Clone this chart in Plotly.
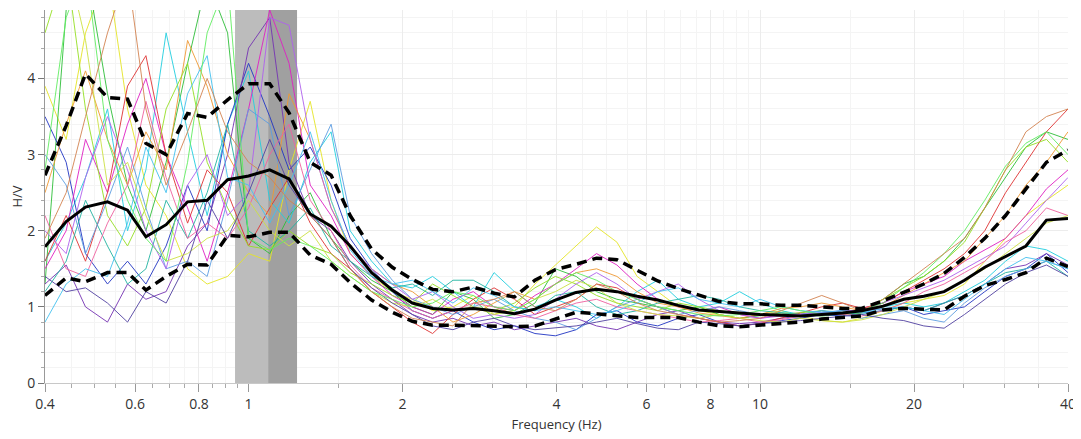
import plotly.graph_objects as go

# frequency samples (Hz)
freq_hz = [0.4, 0.44, 0.48, 0.53, 0.58, 0.63, 0.69, 0.76, 0.83, 0.91, 1.0,
           1.1, 1.2, 1.32, 1.45, 1.58, 1.74, 1.91, 2.09, 2.29, 2.51, 2.75,
           3.02, 3.31, 3.63, 3.98, 4.37, 4.79, 5.25, 5.75, 6.31, 6.92, 7.59,
           8.32, 9.12, 10.0, 11.0, 12.0, 13.2, 14.5, 15.8, 17.4, 19.1, 20.9,
           22.9, 25.1, 27.5, 30.2, 33.1, 36.3, 40.0]

# average H/V and +/- one standard deviation
hv_mean = [1.79, 2.12, 2.31, 2.38, 2.27, 1.92, 2.08, 2.38, 2.40, 2.67, 2.72,
           2.80, 2.68, 2.22, 2.06, 1.80, 1.45, 1.22, 1.05, 0.98, 0.96, 0.98,
           0.95, 0.91, 0.97, 1.09, 1.19, 1.23, 1.20, 1.14, 1.09, 1.02, 0.96,
           0.94, 0.92, 0.90, 0.89, 0.88, 0.90, 0.92, 0.95, 1.01, 1.10, 1.14,
           1.20, 1.35, 1.52, 1.66, 1.80, 2.14, 2.16]
hv_upper = [2.73, 3.38, 4.06, 3.75, 3.73, 3.15, 3.00, 3.54, 3.49, 3.72, 3.93,
            3.93, 3.55, 2.90, 2.73, 2.20, 1.76, 1.52, 1.36, 1.23, 1.20, 1.26,
            1.18, 1.13, 1.35, 1.49, 1.56, 1.64, 1.62, 1.48, 1.34, 1.24, 1.16,
            1.07, 1.04, 1.04, 1.02, 1.02, 1.00, 0.98, 0.98, 1.08, 1.19, 1.30,
            1.44, 1.65, 1.90, 2.20, 2.55, 2.90, 3.06]
hv_lower = [1.15, 1.38, 1.33, 1.45, 1.45, 1.22, 1.40, 1.56, 1.55, 1.94, 1.92,
            1.98, 1.98, 1.68, 1.56, 1.32, 1.09, 0.93, 0.81, 0.76, 0.76, 0.75,
            0.74, 0.74, 0.75, 0.84, 0.93, 0.91, 0.89, 0.86, 0.86, 0.86, 0.80,
            0.75, 0.74, 0.76, 0.78, 0.80, 0.84, 0.86, 0.88, 0.96, 0.98, 0.97,
            0.96, 1.14, 1.28, 1.36, 1.45, 1.64, 1.53]

# individual windows
win_yellow = [3.9, 3.2, 4.6, 5.4, 3.6, 2.6, 2.2, 1.5, 1.3, 1.4, 1.7, 1.6, 2.8, 3.7, 2.4, 1.7, 1.4, 1.2, 1.1, 0.95, 1.0, 1.15, 0.9, 1.0, 1.3, 1.55, 1.8, 2.05, 1.85, 1.4, 1.2, 1.0, 0.95, 0.9, 0.85, 0.9, 0.95, 0.88, 0.82, 0.8, 0.85, 0.95, 1.05, 1.1, 1.15, 1.3, 1.6, 1.9, 2.2, 2.4, 2.6]
win_green = [1.3, 4.9, 5.5, 3.8, 2.6, 2.0, 2.9, 4.2, 5.3, 4.6, 1.9, 1.7, 2.2, 2.5, 1.9, 1.6, 1.35, 1.2, 1.0, 0.9, 1.2, 1.1, 0.85, 0.9, 1.05, 1.5, 1.4, 1.2, 1.1, 1.05, 1.0, 0.95, 1.0, 0.9, 0.85, 0.88, 0.92, 0.9, 0.88, 0.9, 0.95, 1.1, 1.3, 1.4, 1.6, 1.9, 2.3, 2.7, 3.1, 3.3, 3.2]
win_cyan = [1.6, 2.1, 2.7, 3.6, 2.0, 2.8, 4.6, 3.3, 2.2, 3.4, 4.1, 2.4, 2.1, 2.9, 3.3, 2.0, 1.6, 1.3, 1.25, 1.4, 1.2, 1.0, 1.45, 1.2, 1.0, 1.1, 1.0, 0.85, 1.0, 1.2, 1.35, 1.1, 1.0, 1.05, 1.2, 1.05, 0.95, 0.9, 0.92, 0.95, 0.93, 1.0, 1.05, 1.0, 1.05, 1.2, 1.35, 1.6, 1.8, 1.75, 1.6]
win_blue = [3.5, 2.9, 1.7, 1.3, 1.6, 1.3, 1.8, 2.6, 2.0, 3.4, 4.2, 3.5, 2.8, 3.1, 2.6, 1.9, 1.5, 1.2, 0.95, 0.85, 0.95, 0.8, 0.7, 0.75, 0.65, 0.62, 0.7, 0.9, 0.95, 0.8, 0.75, 0.85, 0.9, 0.8, 0.75, 0.78, 0.82, 0.85, 0.9, 0.88, 0.92, 0.95, 1.0, 0.9, 0.95, 1.0, 1.2, 1.4, 1.5, 1.7, 1.45]
win_purple = [1.3, 1.55, 1.0, 0.8, 1.3, 1.1, 1.2, 1.8, 2.1, 3.0, 4.4, 4.8, 2.9, 2.2, 2.0, 1.6, 1.3, 1.1, 0.9, 0.8, 0.85, 0.75, 0.8, 0.7, 0.75, 0.8, 0.85, 0.75, 0.7, 0.8, 0.9, 0.95, 0.85, 0.8, 0.78, 0.8, 0.85, 0.88, 0.9, 0.92, 0.95, 0.98, 1.0, 0.95, 1.05, 1.15, 1.3, 1.5, 1.55, 1.7, 1.55]
win_magenta = [1.5, 2.0, 3.2, 2.5, 3.4, 4.0, 3.0, 2.3, 1.6, 2.5, 3.6, 4.9, 4.2, 2.6, 2.2, 1.7, 1.4, 1.15, 1.0, 0.9, 1.1, 1.2, 1.0, 0.95, 1.15, 1.3, 1.5, 1.7, 1.55, 1.3, 1.1, 1.0, 0.95, 1.0, 0.9, 0.85, 0.9, 0.92, 0.9, 0.92, 0.98, 1.05, 1.2, 1.3, 1.4, 1.6, 1.75, 1.9, 2.2, 2.55, 2.8]
win_red = [1.6, 2.2, 1.6, 2.5, 3.9, 4.3, 3.0, 2.1, 2.8, 2.5, 1.8, 2.3, 2.7, 2.1, 1.7, 1.5, 1.2, 1.0, 0.8, 0.65, 0.9, 1.1, 1.25, 1.1, 0.9, 1.0, 1.1, 1.3, 1.25, 1.1, 1.0, 0.9, 0.85, 0.8, 0.75, 0.78, 0.85, 0.92, 1.0, 1.05, 0.98, 1.05, 1.2, 1.35, 1.5, 1.7, 2.0, 2.5, 2.9, 3.3, 3.6]
win_orange = [2.5, 3.4, 4.1, 3.2, 2.6, 3.3, 2.8, 4.5, 3.9, 3.0, 2.5, 2.2, 3.8, 3.2, 2.3, 1.8, 1.5, 1.3, 1.2, 1.0, 0.8, 0.9, 1.05, 1.2, 1.1, 1.3, 1.45, 1.5, 1.4, 1.2, 1.05, 1.0, 0.92, 0.88, 0.85, 0.9, 0.98, 1.0, 1.05, 1.0, 0.95, 1.0, 1.15, 1.3, 1.45, 1.6, 1.9, 2.2, 2.6, 2.9, 3.3]
win_lime = [4.6, 5.5, 3.6, 2.2, 1.8, 2.3, 3.6, 4.2, 2.9, 2.3, 1.8, 1.75, 2.0, 1.8, 1.7, 1.45, 1.3, 1.15, 1.05, 1.3, 1.15, 1.0, 0.95, 1.05, 1.25, 1.4, 1.3, 1.15, 1.05, 1.0, 0.95, 1.05, 1.0, 0.95, 0.92, 0.9, 0.9, 0.92, 0.95, 0.9, 0.92, 1.1, 1.25, 1.4, 1.6, 1.85, 2.3, 2.8, 3.1, 3.2, 2.9]
win_teal = [1.2, 1.6, 2.4, 1.8, 1.3, 1.5, 2.4, 1.9, 2.5, 3.4, 2.0, 1.8, 2.0, 2.3, 1.8, 1.6, 1.4, 1.25, 1.3, 1.15, 1.35, 1.35, 1.2, 1.0, 0.95, 1.15, 1.2, 1.0, 0.9, 0.95, 1.05, 1.1, 1.15, 1.1, 1.0, 0.95, 0.92, 0.9, 0.95, 0.93, 0.9, 0.95, 1.0, 0.95, 1.05, 1.15, 1.3, 1.45, 1.5, 1.6, 1.4]
win_lightblue = [3.0, 2.6, 1.7, 2.4, 3.1, 2.3, 1.5, 1.6, 1.4, 2.4, 3.6, 3.4, 2.2, 2.8, 3.4, 2.2, 1.7, 1.35, 1.1, 1.0, 0.9, 1.0, 1.1, 0.95, 0.85, 0.8, 0.7, 0.85, 1.0, 1.1, 1.0, 0.9, 0.95, 1.0, 0.95, 0.9, 0.88, 0.9, 0.95, 0.9, 0.85, 0.9, 0.95, 0.85, 0.8, 1.05, 1.25, 1.4, 1.5, 1.6, 1.5]
win_violet = [2.0, 1.7, 2.7, 3.5, 2.8, 2.0, 1.5, 2.6, 3.0, 2.2, 2.5, 4.8, 4.7, 3.2, 2.3, 1.8, 1.5, 1.3, 1.1, 1.2, 1.0, 0.85, 0.9, 0.85, 0.9, 1.1, 1.3, 1.45, 1.3, 1.1, 1.2, 1.3, 1.1, 0.95, 0.9, 0.85, 0.88, 0.9, 0.92, 0.95, 0.95, 1.05, 1.15, 1.25, 1.35, 1.5, 1.65, 1.8, 2.1, 2.4, 2.7]
win_pink = [2.2, 1.5, 1.4, 2.1, 2.6, 3.7, 2.7, 1.9, 2.1, 1.9, 2.3, 3.0, 3.4, 2.4, 2.0, 1.55, 1.25, 1.1, 0.95, 0.85, 0.95, 1.05, 1.0, 0.9, 0.85, 0.95, 1.05, 1.1, 1.0, 0.95, 0.9, 0.85, 0.8, 0.82, 0.85, 0.8, 0.83, 0.88, 0.9, 0.9, 0.88, 0.95, 1.05, 1.2, 1.3, 1.45, 1.6, 1.85, 2.0, 2.3, 2.2]
win_sky = [0.8, 1.3, 1.5, 1.4, 2.1, 3.1, 2.5, 3.8, 4.3, 2.7, 2.6, 2.1, 2.6, 3.3, 2.4, 1.75, 1.4, 1.3, 1.35, 1.2, 1.05, 1.25, 1.15, 1.0, 0.95, 1.0, 0.95, 0.9, 0.95, 1.05, 1.2, 1.25, 1.1, 1.05, 1.0, 1.1, 1.0, 0.95, 0.93, 0.95, 0.92, 0.98, 1.0, 0.95, 0.9, 1.1, 1.3, 1.5, 1.65, 1.6, 1.5]
win_yellowgreen = [4.9, 5.6, 4.5, 2.6, 2.9, 2.2, 1.6, 1.7, 1.9, 2.0, 2.4, 2.0, 1.8, 2.0, 1.6, 1.4, 1.2, 1.05, 1.0, 1.1, 0.95, 1.0, 0.9, 0.95, 1.1, 1.2, 1.35, 1.25, 1.05, 0.95, 0.9, 0.88, 0.85, 0.9, 0.85, 0.82, 0.8, 0.85, 0.82, 0.8, 0.83, 0.9, 1.0, 1.1, 1.2, 1.35, 1.5, 1.7, 1.9, 2.1, 2.2]
win_indigo = [1.4, 1.2, 1.25, 1.05, 0.8, 1.2, 1.05, 1.6, 2.4, 1.9, 2.5, 3.2, 2.6, 2.2, 1.9, 1.5, 1.25, 1.05, 0.9, 0.75, 0.7, 0.8, 0.85, 0.75, 0.7, 0.72, 0.75, 0.8, 0.85, 0.78, 0.72, 0.7, 0.8, 0.78, 0.75, 0.78, 0.8, 0.82, 0.85, 0.88, 0.9, 0.85, 0.82, 0.75, 0.72, 0.9, 1.1, 1.3, 1.45, 1.55, 1.4]
win_lightgreen = [2.8, 4.8, 5.5, 3.2, 2.4, 1.9, 1.6, 2.9, 4.6, 5.3, 1.9, 1.75, 1.9, 1.8, 1.6, 1.4, 1.2, 1.1, 1.0, 1.05, 1.2, 1.15, 1.0, 0.95, 1.1, 1.3, 1.45, 1.35, 1.2, 1.1, 1.0, 0.95, 0.9, 0.88, 0.9, 0.95, 1.0, 0.95, 0.9, 0.92, 0.95, 1.05, 1.25, 1.45, 1.7, 2.0, 2.4, 2.85, 3.15, 3.3, 3.0]
win_brown = [1.9, 2.5, 3.5, 4.6, 5.4, 3.6, 2.6, 3.3, 4.0, 3.3, 2.9, 2.7, 2.4, 2.2, 1.9, 1.5, 1.2, 1.0, 0.85, 0.8, 0.75, 1.05, 1.1, 1.2, 1.0, 0.95, 1.1, 1.3, 1.2, 1.05, 0.95, 0.9, 0.85, 0.8, 0.82, 0.85, 0.95, 1.05, 1.15, 1.05, 0.95, 1.1, 1.3, 1.5, 1.7, 1.9, 2.3, 2.8, 3.3, 3.5, 3.6]

# peak frequency band (f0 - std, f0, f0 + std)
f0_low, f0, f0_high = 0.941, 1.092, 1.244
y_top = 4.9

x_ticks = [0.4, 0.6, 0.8, 1, 2, 4, 6, 8, 10, 20, 40]
x_minor = [0.45, 0.5, 0.55, 0.65, 0.7, 0.75, 0.85, 0.9, 0.95, 1.5, 2.5, 3, 3.5,
           4.5, 5, 5.5, 6.5, 7, 7.5, 8.5, 9, 9.5, 15, 25, 30, 35]

windows = [
    (win_yellow, '#e6e628'), (win_green, '#2fbf3a'), (win_cyan, '#22cfe0'),
    (win_blue, '#2236c4'), (win_purple, '#7634b4'), (win_magenta, '#e021c4'),
    (win_red, '#e03434'), (win_orange, '#f09a34'), (win_lime, '#96e024'),
    (win_teal, '#22b4a2'), (win_lightblue, '#5e9ee2'), (win_violet, '#b062ee'),
    (win_pink, '#f062a0'), (win_sky, '#44c2f0'), (win_yellowgreen, '#cde244'),
    (win_indigo, '#5242a2'), (win_lightgreen, '#62ee62'), (win_brown, '#d48452'),
]

fig = go.Figure()

# shaded f0 band, drawn first so every curve sits on top of it
fig.add_trace(go.Scatter(x=[f0_low, f0_low, f0, f0], y=[0, y_top, y_top, 0],
                         fill='toself', fillcolor='#bcbcbc', mode='none',
                         showlegend=False, hoverinfo='skip'))
fig.add_trace(go.Scatter(x=[f0, f0, f0_high, f0_high], y=[0, y_top, y_top, 0],
                         fill='toself', fillcolor='#a0a0a0', mode='none',
                         showlegend=False, hoverinfo='skip'))

for vals, col in windows:
    fig.add_trace(go.Scatter(x=freq_hz, y=vals, mode='lines',
                             line=dict(color=col, width=1), opacity=0.9,
                             showlegend=False, hoverinfo='skip'))

for vals in (hv_upper, hv_lower):
    fig.add_trace(go.Scatter(x=freq_hz, y=vals, mode='lines',
                             line=dict(color='black', width=3.5, dash='10px,6px'),
                             showlegend=False))

fig.add_trace(go.Scatter(x=freq_hz, y=hv_mean, mode='lines',
                         line=dict(color='black', width=3), showlegend=False))

fig.update_xaxes(
    type='log', range=[-0.39794, 1.60206],
    tickmode='array', tickvals=x_ticks, ticktext=[str(v) for v in x_ticks],
    ticks='outside', ticklen=8, tickcolor='#999', showline=True, linecolor='#c8c8c8',
    showgrid=True, gridcolor='#ececec',
    minor=dict(tickvals=x_minor, ticks='outside', ticklen=4, tickcolor='#aaa',
               showgrid=True, gridcolor='#f4f4f4'),
    title=dict(text='Frequency (Hz)', standoff=8, font=dict(size=13)),
    zeroline=False,
)
fig.update_yaxes(
    range=[0, y_top], tickvals=[0, 1, 2, 3, 4],
    ticks='outside', ticklen=6, tickcolor='#777', showline=True, linecolor='#999',
    showgrid=True, gridcolor='#ececec',
    minor=dict(dtick=0.2, ticks='outside', ticklen=3, tickcolor='#aaa',
               showgrid=True, gridcolor='#f4f4f4'),
    title=dict(text='H/V', standoff=4, font=dict(size=13)),
    zeroline=False,
)

# the page body adds an 8px margin, so the figure is sized to fit inside the window
fig.update_layout(
    width=1073, height=431,
    margin=dict(l=37, r=13, t=2, b=56),
    plot_bgcolor='white', paper_bgcolor='white',
    font=dict(family='Open Sans, DejaVu Sans, sans-serif', size=14, color='#333'),
)

fig.write_html('out.html')
